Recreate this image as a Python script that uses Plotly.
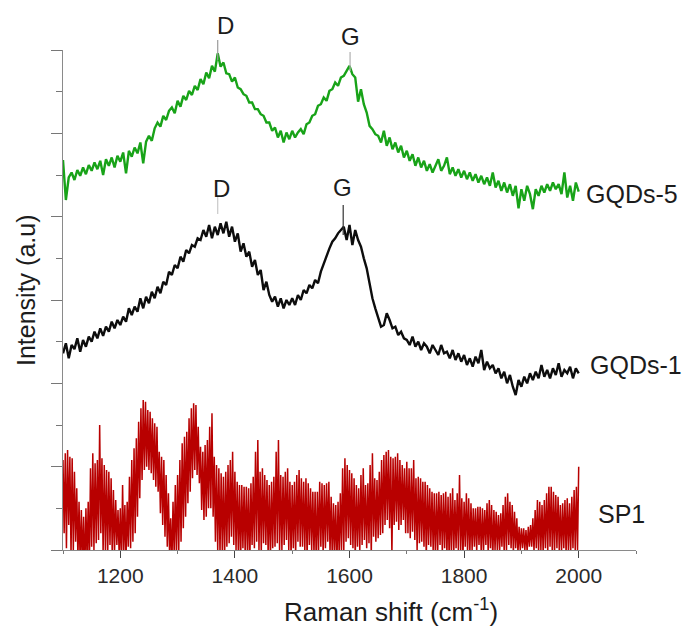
import plotly.graph_objects as go

# ---------------- data ----------------
series_names = ["GQDs-5", "GQDs-1", "SP1"]
shift_gqd = list(range(1100, 2001, 5))   # cm-1 sampling of the GQD spectra
shift_sp1 = list(range(1100, 2001, 2))   # cm-1 sampling of the SP1 spectrum

gqds5 = [
    468, 420, 447, 453, 444, 456, 449, 459, 451, 462,
    455, 465, 457, 467, 450, 469, 461, 471, 459, 473,
    466, 477, 452, 479, 472, 483, 476, 489, 464, 490,
    497, 491, 506, 513, 508, 521, 516, 527, 531, 524,
    539, 532, 545, 540, 551, 546, 557, 552, 565, 559,
    573, 566, 581, 574, 596, 580, 585, 572, 571, 562,
    567, 555, 553, 547, 545, 537, 537, 529, 529, 523,
    521, 513, 513, 503, 507, 495, 503, 489, 501, 493,
    503, 495, 501, 505, 499, 511, 513, 521, 523, 533,
    535, 543, 539, 551, 553, 561, 557, 567, 569, 575,
    581, 571, 567, 538, 553, 535, 525, 509, 505, 499,
    497, 489, 503, 485, 495, 481, 489, 477, 485, 471,
    479, 467, 475, 461, 471, 459, 467, 455, 463, 453,
    461, 469, 455, 461, 471, 451, 459, 449, 457, 447,
    455, 445, 453, 443, 451, 441, 449, 439, 447, 437,
    453, 435, 443, 431, 441, 429, 439, 425, 437, 410,
    433, 419, 437, 427, 409, 433, 425, 437, 429, 439,
    431, 441, 433, 439, 427, 453, 423, 437, 419, 441,
    430,
]

gqds1 = [
    236, 248, 230, 246, 241, 254, 238, 252, 244, 256,
    250, 262, 254, 266, 257, 268, 262, 274, 266, 276,
    270, 280, 274, 290, 282, 292, 286, 302, 290, 304,
    296, 310, 302, 316, 308, 322, 318, 334, 330, 342,
    338, 352, 346, 360, 356, 366, 364, 374, 372, 384,
    376, 390, 374, 388, 378, 392, 380, 394, 376, 388,
    370, 380, 358, 368, 352, 358, 340, 348, 330, 336,
    312, 322, 306, 298, 304, 292, 302, 290, 300, 294,
    302, 294, 306, 300, 312, 308, 318, 314, 324, 320,
    334, 344, 352, 362, 370, 374, 380, 384, 388, 372,
    390, 366, 384, 372, 364, 350, 338, 320, 302, 290,
    280, 268, 270, 284, 276, 266, 268, 258, 262, 254,
    252, 246, 256, 244, 250, 240, 248, 244, 236, 246,
    240, 234, 246, 236, 238, 230, 240, 228, 236, 226,
    234, 222, 230, 220, 232, 224, 240, 216, 226, 218,
    222, 212, 218, 206, 214, 200, 210, 196, 186, 204,
    196, 208, 200, 212, 204, 214, 206, 222, 208, 216,
    206, 218, 210, 224, 208, 216, 212, 220, 206, 218,
    212,
]

sp1 = [
    108, 20, 116, 2, 120, 30, 112, -6, 110, 0, 94, 10, 74, -10, 58, -20, 48, -16, 40, -30,
    50, -10, 58, -24, 98, 4, 116, 0, 104, 8, 108, 12, 150, 20, 110, -4, 102, 0, 96, -8,
    94, 6, 86, -10, 72, 0, 60, 6, 48, -6, 50, -20, 78, -4, 54, -14, 58, 4, 88, 2,
    108, 10, 122, 20, 134, 40, 154, 62, 170, 84, 180, 96, 178, 100, 168, 96, 166, 92, 158, 84,
    152, 76, 148, 70, 118, 44, 112, 30, 108, 16, 90, 4, 68, -6, 38, -20, 58, -4, 78, -10,
    90, 0, 108, 10, 128, 26, 136, 40, 142, 56, 158, 70, 170, 86, 176, 96, 174, 90, 148, 80,
    124, 48, 118, 36, 126, 40, 132, 50, 148, 50, 164, 40, 112, 10, 102, 0, 98, -6, 92, -2,
    88, -12, 94, 4, 102, 8, 108, 16, 118, 6, 94, 0, 82, -4, 78, -16, 78, 2, 76, -8,
    76, -4, 74, -20, 80, 6, 88, 2, 118, 10, 132, 0, 94, -4, 98, 8, 90, 6, 84, -6,
    78, -14, 82, 2, 88, 4, 118, 8, 132, -2, 90, 0, 88, 6, 94, 12, 98, 0, 82, -10,
    78, 2, 82, -8, 90, 10, 96, 4, 86, 4, 82, -2, 86, -12, 80, 6, 74, 0, 70, -6,
    70, -18, 70, 0, 82, 4, 80, -6, 78, 2, 80, 10, 82, -4, 64, -14, 56, -2, 54, -20,
    58, -6, 68, 0, 98, -4, 110, 10, 102, 14, 96, 6, 92, 2, 86, -10, 78, 4, 74, 0,
    90, 6, 98, 12, 78, 2, 80, 8, 102, -8, 116, 16, 86, 10, 84, 14, 94, 18, 108, 20,
    114, 30, 118, 36, 120, 26, 112, -6, 110, 30, 112, 34, 116, 24, 108, 30, 102, 36, 98, 20,
    106, 20, 98, 14, 98, 22, 108, 12, 86, 0, 88, 8, 86, 10, 82, 4, 82, -10, 78, 6,
    74, 4, 70, -2, 68, -12, 68, 0, 70, 6, 66, -4, 68, 2, 70, -6, 64, -16, 68, 0,
    74, -4, 60, 2, 68, 0, 90, -2, 62, -10, 58, 4, 68, -2, 62, -6, 56, 0, 50, 4,
    50, -2, 52, 6, 52, -8, 50, 0, 48, 6, 56, -4, 60, 2, 54, -12, 48, 0, 46, 0,
    42, -2, 44, 4, 54, -6, 64, 0, 68, 6, 58, 2, 54, -4, 46, 2, 38, -4, 28, 0,
    26, 2, 26, 0, 24, -2, 28, 4, 30, 4, 38, -2, 48, 2, 60, -4, 58, 0, 54, -6,
    60, 2, 68, -2, 76, 4, 76, -8, 70, 0, 66, 2, 64, 0, 54, -4, 56, 2, 60, -6,
    62, 0, 56, -4, 64, 2, 72, -2, 76, 0, 100,
]

peak_names = ["D", "G", "D", "G"]
peak_shift = [1370, 1601, 1370, 1589]   # cm-1 of the marked bands
x_tick_vals = [1200, 1400, 1600, 1800, 2000]
x_tick_text = ["1200", "1400", "1600", "1800", "2000"]

# ---------------- figure ----------------
FONT = "Liberation Sans, Arial, sans-serif"
TXT = "#1c1c1c"
colors = ["#18a318", "#0d0d0d", "#b80000"]

fig = go.Figure()
fig.add_trace(go.Scatter(x=shift_sp1, y=sp1, mode="lines", name=series_names[2],
                         line=dict(color=colors[2], width=1.5)))
fig.add_trace(go.Scatter(x=shift_gqd, y=gqds1, mode="lines", name=series_names[1],
                         line=dict(color=colors[1], width=2.4)))
fig.add_trace(go.Scatter(x=shift_gqd, y=gqds5, mode="lines", name=series_names[0],
                         line=dict(color=colors[0], width=2.4)))

# peak marker lines (paper y)
marker_spans = [(0.98, 1.02, "#9a9a9a"), (0.958, 0.996, "#b0b0b0"),
                (0.672, 0.706, "#c8c8c8"), (0.63, 0.69, "#333333")]
for xv, (y0, y1, c) in zip(peak_shift, marker_spans):
    fig.add_shape(type="line", xref="x", yref="paper", x0=xv, x1=xv, y0=y0, y1=y1,
                  line=dict(color=c, width=1.2))

peak_label_pos = [(1384, 1.048), (1601, 1.026), (1376, 0.724), (1588, 0.726)]
for name, (xv, yv) in zip(peak_names, peak_label_pos):
    fig.add_annotation(x=xv, y=yv, xref="x", yref="paper", text=name, showarrow=False,
                       font=dict(family=FONT, size=24, color=TXT),
                       xanchor="center", yanchor="middle")

series_label_pos = [(2010, 0.712), (2017, 0.37), (2031, 0.072)]
for name, (xv, yv) in zip(series_names, series_label_pos):
    fig.add_annotation(x=xv, y=yv, xref="x", yref="paper", text=name, showarrow=False,
                       font=dict(family=FONT, size=25, color=TXT),
                       xanchor="left", yanchor="middle")

fig.add_annotation(x=0.572, y=-0.12, xref="paper", yref="paper",
                   text="Raman shift (cm<sup>-1</sup>)", showarrow=False,
                   font=dict(family=FONT, size=26, color=TXT),
                   xanchor="center", yanchor="middle")
fig.add_annotation(x=-0.0646, y=0.52, xref="paper", yref="paper",
                   text="Intensity (a.u)", textangle=-90, showarrow=False,
                   font=dict(family=FONT, size=25, color=TXT),
                   xanchor="center", yanchor="middle")

fig.update_layout(
    width=688, height=629,
    margin=dict(l=63, r=52, t=50, b=79),
    paper_bgcolor="white", plot_bgcolor="white",
    showlegend=False,
    xaxis=dict(range=[1100, 2100], showgrid=False, zeroline=False,
               showline=True, linecolor="#8a8a8a", linewidth=1.3,
               ticks="outside", ticklen=7, tickwidth=1.3, tickcolor="#444",
               tickvals=x_tick_vals, ticktext=x_tick_text,
               tickfont=dict(family=FONT, size=21, color="#2a2a2a"),
               minor=dict(tick0=1100, dtick=100, ticks="outside", ticklen=3,
                          tickcolor="#777", tickwidth=1.2)),
    yaxis=dict(range=[0, 600], showgrid=False, zeroline=False,
               showline=True, linecolor="#8a8a8a", linewidth=1.3,
               ticks="outside", ticklen=11, tickwidth=1.2, tickcolor="#777",
               tickvals=[0, 100, 200, 300, 400, 500, 600], showticklabels=False,
               minor=dict(tick0=0, dtick=50, ticks="outside", ticklen=6,
                          tickcolor="#777", tickwidth=1.2)),
)

fig.write_html("out.html")
